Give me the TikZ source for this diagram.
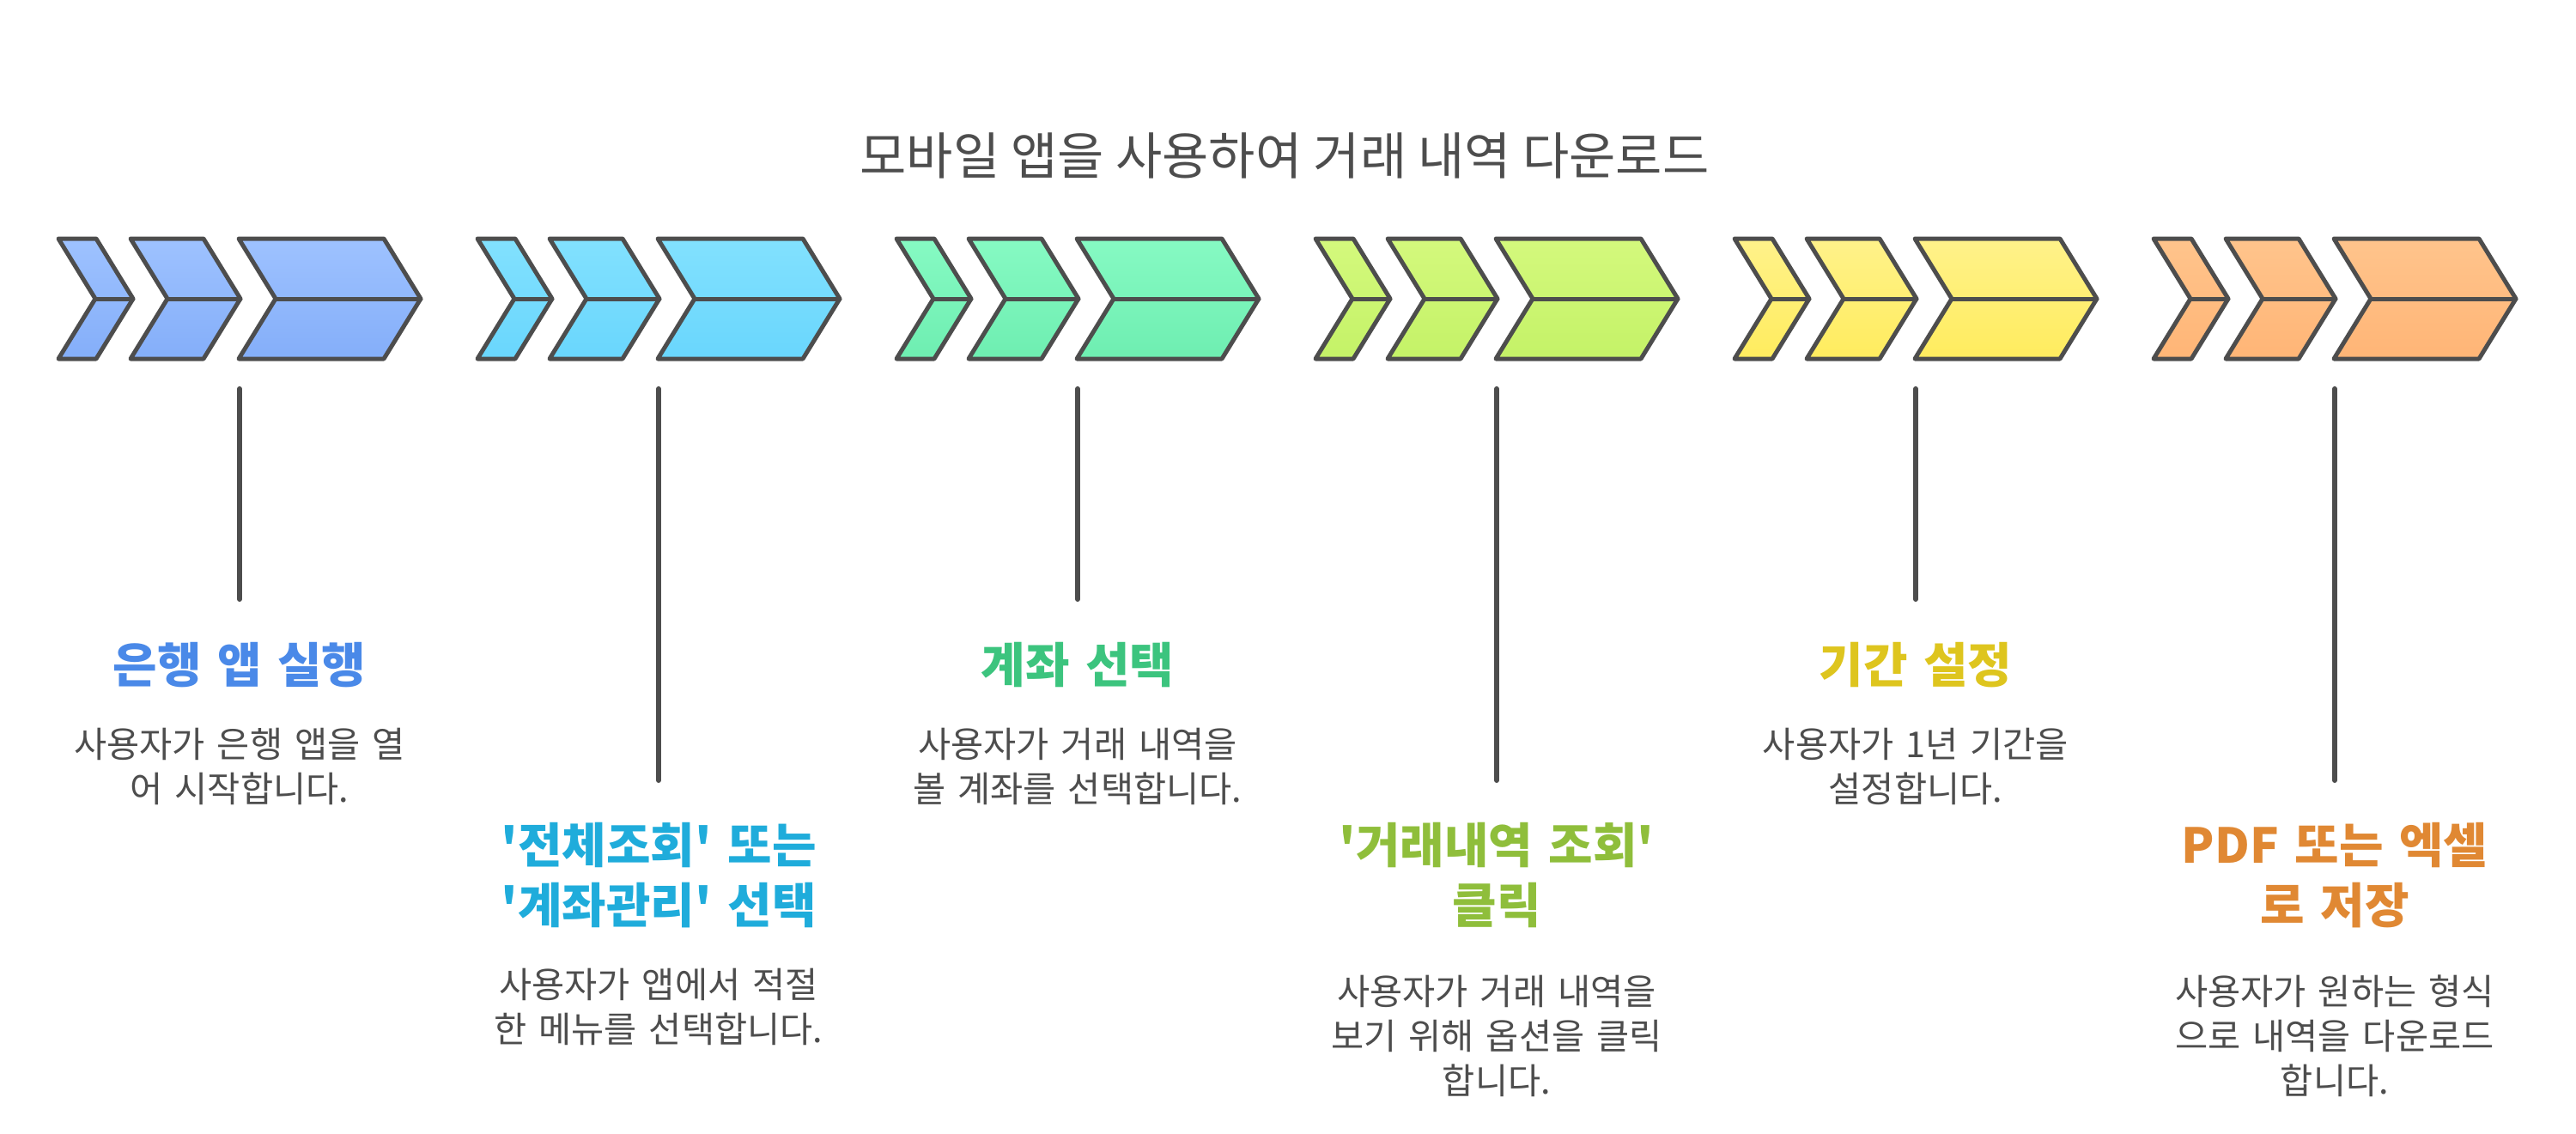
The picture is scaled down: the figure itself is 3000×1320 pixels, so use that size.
\documentclass[tikz,border=0pt]{standalone}
\usepackage{fontspec}
\newfontfamily\kr{Noto Sans CJK KR}
\definecolor{dk}{HTML}{4D4D4D}
\definecolor{c1t}{HTML}{9EC2FF}\definecolor{c1b}{HTML}{84AEF9}\definecolor{t1c}{HTML}{4A89E8}
\definecolor{c2t}{HTML}{82E1FE}\definecolor{c2b}{HTML}{69D6FD}\definecolor{t2c}{HTML}{1FACDB}
\definecolor{c3t}{HTML}{86FAC3}\definecolor{c3b}{HTML}{6EEEB1}\definecolor{t3c}{HTML}{3CC47E}
\definecolor{c4t}{HTML}{D4F97D}\definecolor{c4b}{HTML}{C4F267}\definecolor{t4c}{HTML}{8FBE3B}
\definecolor{c5t}{HTML}{FFF28A}\definecolor{c5b}{HTML}{FFEC5E}\definecolor{t5c}{HTML}{DEC51E}
\definecolor{c6t}{HTML}{FFC48C}\definecolor{c6b}{HTML}{FFB576}\definecolor{t6c}{HTML}{E08833}
\newcommand\mychev[2]{%
  \draw[chevline, grpfill] (#1,278) -- (#2,278) -- ({#2+43},348) -- (#2,418) -- (#1,418) -- ({#1+43},348) -- cycle;
  \draw[chevline] ({#1+43},348) -- ({#2+43},348);
}
\begin{document}
\begin{tikzpicture}[x=1pt,y=-1pt,
  chevline/.style={draw=dk, line width=5pt, line join=round, line cap=round},
  conn/.style={draw=dk, line width=6pt, line cap=round},
  ttl/.style={font=\kr\fontsize{56}{70}\selectfont\bfseries, text width=620pt, align=center, inner sep=0pt, anchor=base},
  dsc/.style={font=\kr\fontsize{41.5}{52}\selectfont, text=dk, text width=620pt, align=center, inner sep=0pt, anchor=base}]
\useasboundingbox[fill=white] (0,0) rectangle (3000,1320);

\node[font=\kr\fontsize{59}{70}\selectfont, text=dk, anchor=base, inner sep=0pt] (maintitle) at (1496,203) {모바일 앱을 사용하여 거래 내역 다운로드};

\foreach \k in {1,...,6}{
  \pgfmathsetmacro\o{(\k-1)*488}
  \begin{scope}[grpfill/.style={top color=c\k t, bottom color=c\k b}]
    \mychev{68+\o}{112+\o}
    \mychev{152+\o}{237+\o}
    \mychev{278+\o}{447+\o}
  \end{scope}
}

% group 1
\coordinate (a1) at (279,453); \coordinate (b1) at (279,698);
\draw[conn] (a1) -- (b1);
\node[ttl, text=t1c] (t1) at (279,795) {은행 앱 실행};
\node[dsc] (d1) at (279,882) {사용자가 은행 앱을 열\\어 시작합니다.};
% group 2
\coordinate (a2) at (767,453); \coordinate (b2) at (767,909);
\draw[conn] (a2) -- (b2);
\node[ttl, text=t2c] (t2) at (767,1005) {'전체조회' 또는\\'계좌관리' 선택};
\node[dsc] (d2) at (767,1162) {사용자가 앱에서 적절\\한 메뉴를 선택합니다.};
% group 3
\coordinate (a3) at (1255,453); \coordinate (b3) at (1255,698);
\draw[conn] (a3) -- (b3);
\node[ttl, text=t3c] (t3) at (1255,795) {계좌 선택};
\node[dsc] (d3) at (1255,882) {사용자가 거래 내역을\\볼 계좌를 선택합니다.};
% group 4
\coordinate (a4) at (1743,453); \coordinate (b4) at (1743,909);
\draw[conn] (a4) -- (b4);
\node[ttl, text=t4c] (t4) at (1743,1005) {'거래내역 조회'\\클릭};
\node[dsc] (d4) at (1743,1170) {사용자가 거래 내역을\\보기 위해 옵션을 클릭\\합니다.};
% group 5
\coordinate (a5) at (2231,453); \coordinate (b5) at (2231,698);
\draw[conn] (a5) -- (b5);
\node[ttl, text=t5c] (t5) at (2231,795) {기간 설정};
\node[dsc] (d5) at (2231,882) {사용자가 1년 기간을\\설정합니다.};
% group 6
\coordinate (a6) at (2719,453); \coordinate (b6) at (2719,909);
\draw[conn] (a6) -- (b6);
\node[ttl, text=t6c] (t6) at (2719,1005) {PDF 또는 엑셀\\로 저장};
\node[dsc] (d6) at (2719,1170) {사용자가 원하는 형식\\으로 내역을 다운로드\\합니다.};
\end{tikzpicture}
\end{document}
